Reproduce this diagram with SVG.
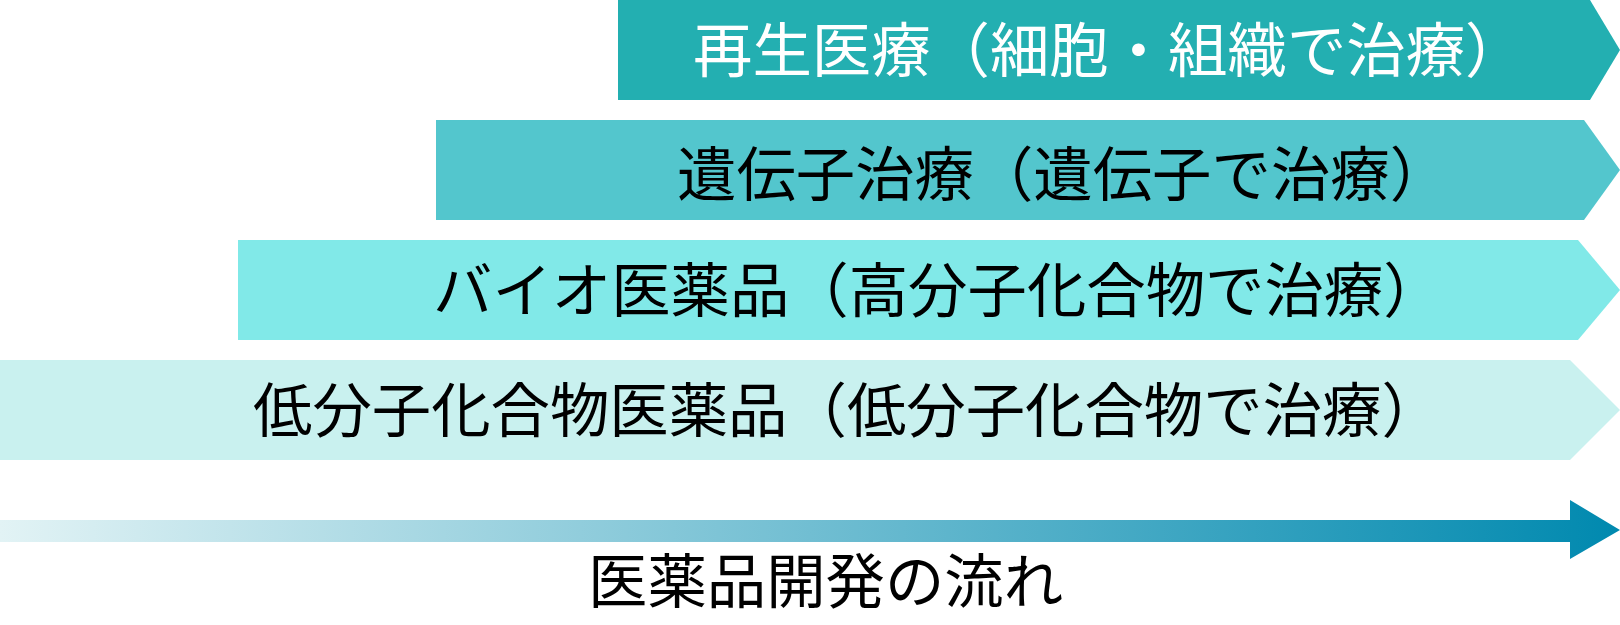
<svg xmlns="http://www.w3.org/2000/svg" width="1620" height="625" viewBox="0 0 1620 625">
<defs>
<style>
.t{font-family:"Noto Sans CJK JP","Noto Sans CJK SC",sans-serif;font-size:59.4px}
.w{fill:#ffffff}
.k{fill:#000000}
</style>
<linearGradient id="flow" x1="0" y1="0" x2="1620" y2="0" gradientUnits="userSpaceOnUse">
<stop offset="0" stop-color="#E2F3F5"/>
<stop offset="1" stop-color="#0089AF"/>
</linearGradient>
</defs>
<rect width="1620" height="625" fill="#ffffff"/>
<g id="band-regenerative">
<polygon points="618,0 1590,0 1620,50 1590,100 618,100" fill="#23AFB1"/>
<text class="t w" x="693" y="72">再生医療（細胞・組織で治療）</text>
</g>
<g id="band-gene">
<polygon points="436,120 1584,120 1620,170 1584,220 436,220" fill="#53C6CD"/>
<text class="t k" x="677" y="196">遺伝子治療（遺伝子で治療）</text>
</g>
<g id="band-bio">
<polygon points="238,240 1578,240 1620,290 1578,340 238,340" fill="#81E9E8"/>
<text class="t k" x="433" y="312">バイオ医薬品（高分子化合物で治療）</text>
</g>
<g id="band-small">
<polygon points="0,360 1570,360 1620,410 1570,460 0,460" fill="#C9F1EF"/>
<text class="t k" x="253" y="432">低分子化合物医薬品（低分子化合物で治療）</text>
</g>
<g id="connectors">
<polygon points="0,520 1570,520 1570,500 1620,530 1570,559 1570,542 0,542" fill="url(#flow)"/>
</g>
<g id="flow-label">
<text class="t k" x="588" y="603">医薬品開発の流れ</text>
</g>
</svg>
